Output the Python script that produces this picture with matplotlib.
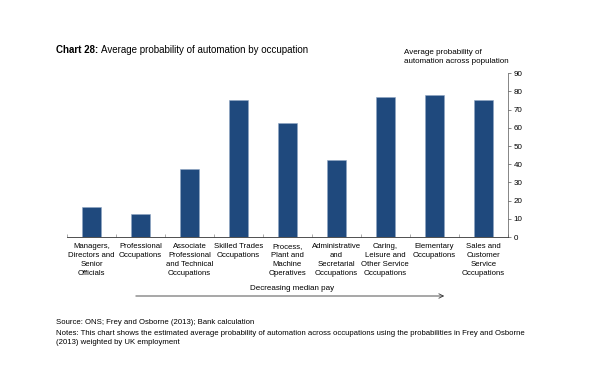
import numpy as np
import matplotlib
matplotlib.use("Agg")
import matplotlib.pyplot as plt
from matplotlib.patches import FancyArrowPatch

plt.rcParams["font.family"] = ["Liberation Sans", "DejaVu Sans"]

# data
categories = [
    "Managers,\nDirectors and\nSenior\nOfficials",
    "Professional\nOccupations",
    "Associate\nProfessional\nand Technical\nOccupations",
    "Skilled Trades\nOccupations",
    "Process,\nPlant and\nMachine\nOperatives",
    "Administrative\nand\nSecretarial\nOccupations",
    "Caring,\nLeisure and\nOther Service\nOccupations",
    "Elementary\nOccupations",
    "Sales and\nCustomer\nService\nOccupations",
]
probability = [16.5, 12.9, 37.4, 75.1, 62.8, 42.2, 77.1, 77.9, 75.4]
y_ticks = [0, 10, 20, 30, 40, 50, 60, 70, 80, 90]

bar_color = "#1f497d"
W, H = 596, 383

fig = plt.figure(figsize=(5.96, 3.83), dpi=100, facecolor="white")
ax = fig.add_axes([0.1124, 0.381, 0.7396, 0.428])

x = np.arange(len(categories))
ax.bar(x, probability, width=0.4, color=bar_color, edgecolor="#8fa6c4", linewidth=0.4)

ax.set_xlim(-0.5, len(categories) - 0.5)
ax.set_ylim(0, 90)
ax.set_yticks(y_ticks)
ax.yaxis.tick_right()
ax.tick_params(axis="y", labelsize=5.8, length=2, width=0.5, color="#555555", pad=2)

# category labels, ticks drawn between categories
ax.set_xticks(x)
ax.set_xticklabels(categories, fontsize=5.6, linespacing=1.4)
ax.tick_params(axis="x", length=0, pad=4)
ax.set_xticks(np.arange(len(categories) + 1) - 0.5, minor=True)
ax.tick_params(axis="x", which="minor", direction="in", length=2, width=0.5, color="#888888")

for s in ["top", "left"]:
    ax.spines[s].set_visible(False)
ax.spines["right"].set_linewidth(0.5)
ax.spines["right"].set_color("#555555")
ax.spines["bottom"].set_linewidth(0.6)
ax.spines["bottom"].set_color("#333333")

# title: bold lead-in followed by regular text
t1 = fig.text(56 / W, 1 - 50 / H, "Chart 28:", fontsize=7.0, fontweight="bold", va="center")
fig.canvas.draw()
bb = t1.get_window_extent(fig.canvas.get_renderer())
fig.text((bb.x1 + 3) / W, 1 - 50 / H, "Average probability of automation by occupation",
         fontsize=7.0, va="center")

# axis note
fig.text(404 / W, 1 - 57 / H, "Average probability of\nautomation across population",
         fontsize=5.8, va="center", ha="left", linespacing=1.25)

# arrow for pay
fig.add_artist(FancyArrowPatch(
    (133 / W, 1 - 296 / H), (447 / W, 1 - 296 / H),
    transform=fig.transFigure, arrowstyle="->", mutation_scale=8,
    linewidth=0.6, color="#333333"))
fig.text(292 / W, 1 - 289 / H, "Decreasing median pay", fontsize=5.8, ha="center", va="center")

# source and notes
fig.text(56 / W, 1 - 322 / H, "Source: ONS; Frey and Osborne (2013); Bank calculation",
         fontsize=5.6, va="center")
fig.text(56 / W, 1 - 338 / H,
         "Notes: This chart shows the estimated average probability of automation across "
         "occupations using the probabilities in Frey and Osborne\n(2013) weighted by UK employment",
         fontsize=5.6, va="center", linespacing=1.3)

fig.savefig("out.png", dpi=100, facecolor="white")
